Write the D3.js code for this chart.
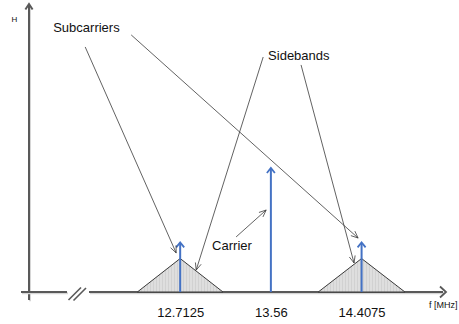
<!DOCTYPE html>
<html><head><meta charset="utf-8">
<script src="https://cdn.jsdelivr.net/npm/d3@7"></script>
<style>
body{margin:0;background:#fff}
svg{display:block}
text{font-family:"Liberation Sans",Arial,sans-serif;fill:#111}
</style>
</head><body><div id="chart"></div>
<script>
// Spectrum sketch: carrier, two subcarriers and their triangular sidebands
const tickFreqs = [12.7125, 13.56, 14.4075];
const tickLabels = ["12.7125", "13.56", "14.4075"];
const carrierFreqs = [13.56];
const carrierLevels = [1.0];
const subcarrierFreqs = [12.7125, 14.4075];
const subcarrierLevels = [0.40, 0.40];
const sidebandHalfWidths = [0.40, 0.405];
const sidebandPeaks = [0.27, 0.27];
const xAxisTitle = "f [MHz]";
const yAxisTitle = "H";

// callouts, positioned in (f, H) units
const calloutLabels = ["Subcarriers", "Sidebands", "Carrier"];
const calloutAnchors = [[11.526, 2.097], [13.534, 1.871], [13.011, 0.337]];
const leaderFrom = [[11.825, 1.976], [12.255, 2.073], [13.488, 1.895], [13.842, 1.831], [13.235, 0.444]];
const leaderTo   = [[12.675, 0.315], [14.375, 0.435], [12.862, 0.177], [14.337, 0.234], [13.516, 0.661]];

const W = 459, H = 324;
const svg = d3.select("#chart").append("svg").attr("width", W).attr("height", H);

const x = d3.scaleLinear().domain([11.3, 15.2]).range([29, 446.4]);
const y = d3.scaleLinear().domain([0, 2.32]).range([292, 4.3]);
const y0 = y(0), xAxisX = x.range()[0];

const axisColor = "#595959", blue = "#4472c4", ink = "#3a3a3a";

// hatched fill for sidebands
const defs = svg.append("defs");
const pat = defs.append("pattern").attr("id", "hatch").attr("patternUnits", "userSpaceOnUse")
  .attr("width", 3).attr("height", 6);
pat.append("rect").attr("width", 3).attr("height", 6).attr("fill", "#dedede");
pat.append("line").attr("x1", 0.5).attr("x2", 0.5).attr("y1", 0).attr("y2", 6)
  .attr("stroke", "#cbcbcb").attr("stroke-width", 0.7);

function head(g, tip, from, len, half, color, width) {
  const a = Math.atan2(tip[1] - from[1], tip[0] - from[0]);
  const p = s => [tip[0] - len * Math.cos(a) + s * half * Math.sin(a),
                  tip[1] - len * Math.sin(a) - s * half * Math.cos(a)];
  g.append("path").attr("d", d3.line()([p(1), tip, p(-1)]))
    .attr("fill", "none").attr("stroke", color).attr("stroke-width", width)
    .attr("stroke-linejoin", "miter");
}

// axes with soft shadow
const axes = svg.append("g");
function axisLine(x1, y1, x2, y2) {
  axes.append("line").attr("x1", x1 + 1).attr("y1", y1 + 1.2).attr("x2", x2 + 1).attr("y2", y2 + 1.2)
    .attr("stroke", "#d6d6d6").attr("stroke-width", 2);
  axes.append("line").attr("x1", x1).attr("y1", y1).attr("x2", x2).attr("y2", y2)
    .attr("stroke", axisColor).attr("stroke-width", 2);
}
axisLine(xAxisX, 300, xAxisX, 6);
head(axes, [xAxisX, 4], [xAxisX, 300], 5.5, 3.6, axisColor, 2);
axisLine(21, y0, 67, y0);
axisLine(89, y0, 443, y0);
head(axes, [446, y0], [21, y0], 6, 5.5, axisColor, 1.8);
// axis break
axes.append("line").attr("x1", 68.5).attr("y1", 300).attr("x2", 81).attr("y2", 287.5)
  .attr("stroke", axisColor).attr("stroke-width", 1.6);
axes.append("line").attr("x1", 73.5).attr("y1", 300.5).attr("x2", 86).attr("y2", 288)
  .attr("stroke", axisColor).attr("stroke-width", 1.6);

// tick labels
const xAxis = d3.axisBottom(x).tickValues(tickFreqs).tickFormat((d, i) => tickLabels[i])
  .tickSize(0).tickPadding(15.3);
const gx = svg.append("g").attr("transform", `translate(0,${y0})`).call(xAxis);
gx.select(".domain").remove();
gx.selectAll("text").attr("font-size", 13).attr("font-family", '"Liberation Sans",Arial,sans-serif').attr("fill", "#111");

svg.append("text").attr("x", 429).attr("y", 308).attr("font-size", 9).text(xAxisTitle);
svg.append("text").attr("x", 11.5).attr("y", 22).attr("font-size", 8).text(yAxisTitle);

// sidebands
const bands = subcarrierFreqs.map((f, i) => [[f - sidebandHalfWidths[i], 0], [f, sidebandPeaks[i]], [f + sidebandHalfWidths[i], 0]]);
const tri = d3.line().x(d => x(d[0])).y(d => y(d[1]));
svg.append("g").selectAll("path").data(bands).join("path")
  .attr("d", d => tri(d) + "Z").attr("fill", "url(#hatch)").attr("stroke", ink).attr("stroke-width", 1)
  .attr("stroke-linejoin", "miter");

// spectral lines (carrier + subcarriers)
const lines = carrierFreqs.map((f, i) => [f, carrierLevels[i]])
  .concat(subcarrierFreqs.map((f, i) => [f, subcarrierLevels[i]]));
const gl = svg.append("g");
lines.forEach(([f, v]) => {
  gl.append("line").attr("x1", x(f)).attr("x2", x(f)).attr("y1", y0).attr("y2", y(v) + 1)
    .attr("stroke", blue).attr("stroke-width", 2);
  head(gl, [x(f), y(v)], [x(f), y0], 5, 4, blue, 1.8);
});

// callout labels and leader arrows
svg.append("g").selectAll("text").data(calloutLabels).join("text")
  .attr("x", (d, i) => x(calloutAnchors[i][0])).attr("y", (d, i) => y(calloutAnchors[i][1]))
  .attr("font-size", 13).text(d => d);
const gc = svg.append("g");
leaderFrom.forEach((a, i) => {
  const p0 = [x(a[0]), y(a[1])], p1 = [x(leaderTo[i][0]), y(leaderTo[i][1])];
  gc.append("line").attr("x1", p0[0]).attr("y1", p0[1]).attr("x2", p1[0]).attr("y2", p1[1])
    .attr("stroke", ink).attr("stroke-width", 0.8);
  head(gc, p1, p0, 7, 3, ink, 0.8);
});
</script>
</body></html>
